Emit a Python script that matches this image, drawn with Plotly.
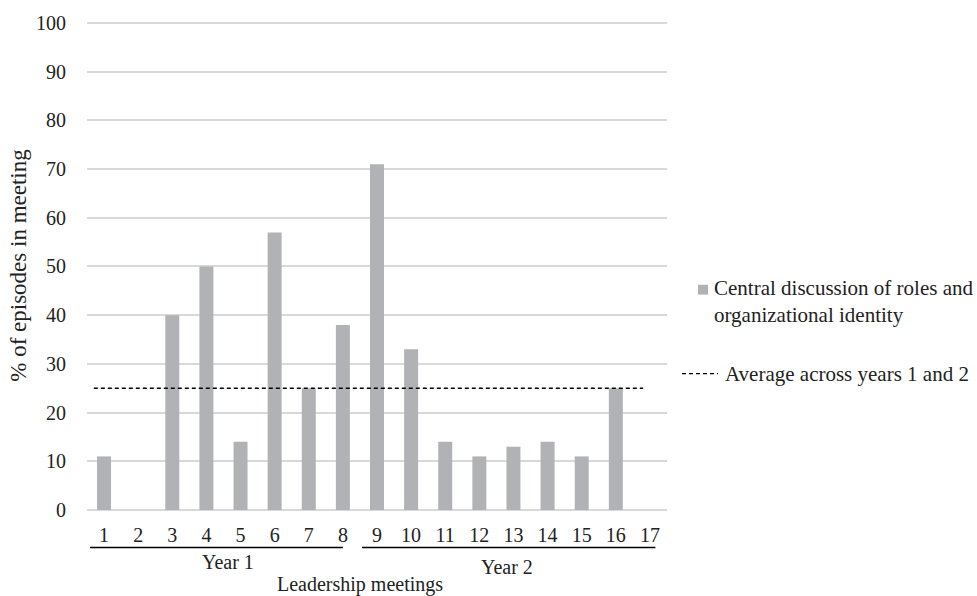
import plotly.graph_objects as go

meetings = list(range(1, 18))
tick_labels = [str(m) for m in meetings]
central_pct = [11, 0, 40, 50, 14, 57, 25, 38, 71, 33, 14, 11, 13, 14, 11, 25, 0]
average_pct = [25, 25]
average_x = [0.7, 16.8]
y_ticks = list(range(0, 101, 10))

FONT = "Liberation Serif, Times New Roman, serif"
BAR_COLOR = "#b1b2b6"
GRID = "#d9d9d9"
TXT = "#222"

fig = go.Figure()
fig.add_trace(go.Bar(x=meetings, y=central_pct, width=0.41, marker_color=BAR_COLOR,
                     marker_line_width=0, showlegend=False))
fig.add_trace(go.Scatter(x=average_x, y=average_pct, mode="lines",
                         line=dict(color="black", width=1.6, dash="4px,3px"), showlegend=False))

fig.update_layout(
    width=977, height=596,
    margin=dict(l=87, r=310, t=15, b=86),
    paper_bgcolor="white", plot_bgcolor="white",
    font=dict(family=FONT, size=20, color=TXT),
    xaxis=dict(range=[0.5, 17.5], tickvals=meetings, ticktext=tick_labels,
               showgrid=False, zeroline=False, showline=False,
               ticks="outside", ticklen=7, tickcolor="rgba(0,0,0,0)",
               tickfont=dict(size=20, family=FONT, color=TXT)),
    yaxis=dict(range=[0, 100.4], tickvals=y_ticks, showgrid=True, gridcolor=GRID, gridwidth=1.5,
               zeroline=True, zerolinecolor=GRID, zerolinewidth=1.5, showline=False,
               ticks="outside", ticklen=16, tickcolor="rgba(0,0,0,0)",
               tickfont=dict(size=20, family=FONT, color=TXT),
               title=dict(text="% of episodes in meeting", font=dict(size=23, family=FONT, color=TXT),
                          standoff=2)),
)

PLOT_H = 596 - 15 - 86

def py(pix):
    return (510 - pix) / PLOT_H

def px(pix):
    return (pix - 87) / 580

shapes = [
    dict(type="line", xref="x", yref="paper", x0=0.59, x1=8.0, y0=py(548), y1=py(548),
         line=dict(color="black", width=1.6)),
    dict(type="line", xref="x", yref="paper", x0=8.56, x1=17.16, y0=py(548), y1=py(548),
         line=dict(color="black", width=1.6)),
    dict(type="rect", xref="paper", yref="paper", x0=px(698), x1=px(708),
         y0=py(292), y1=py(282), fillcolor=BAR_COLOR, line=dict(width=0)),
    dict(type="line", xref="paper", yref="paper", x0=px(682), x1=px(718),
         y0=py(372), y1=py(372), line=dict(color="black", width=1.4, dash="4px,3px")),
]
fig.update_layout(shapes=shapes)

annotations = [
    dict(text="Year 1", x=4.62, xref="x", y=py(563), xanchor="center"),
    dict(text="Year 2", x=12.82, xref="x", y=py(568), xanchor="center"),
    dict(text="Leadership meetings", x=px(360), xref="paper", y=py(585), xanchor="center"),
    dict(text="Central discussion of roles and<br>organizational identity", x=px(712), xref="paper",
         y=py(299), xanchor="left", align="left", size=21),
    dict(text="Average across years 1 and 2", x=px(723), xref="paper",
         y=py(372), xanchor="left", align="left", size=21),
]
for a in annotations:
    size = a.pop("size", 20)
    a["yref"] = "paper"
    a["yanchor"] = "middle"
    a["showarrow"] = False
    a["font"] = dict(size=size, family=FONT, color=TXT)
fig.update_layout(annotations=annotations)

fig.write_html("out.html", config={"displayModeBar": False},
               post_script="document.body.style.margin='0';document.body.style.padding='0';")
